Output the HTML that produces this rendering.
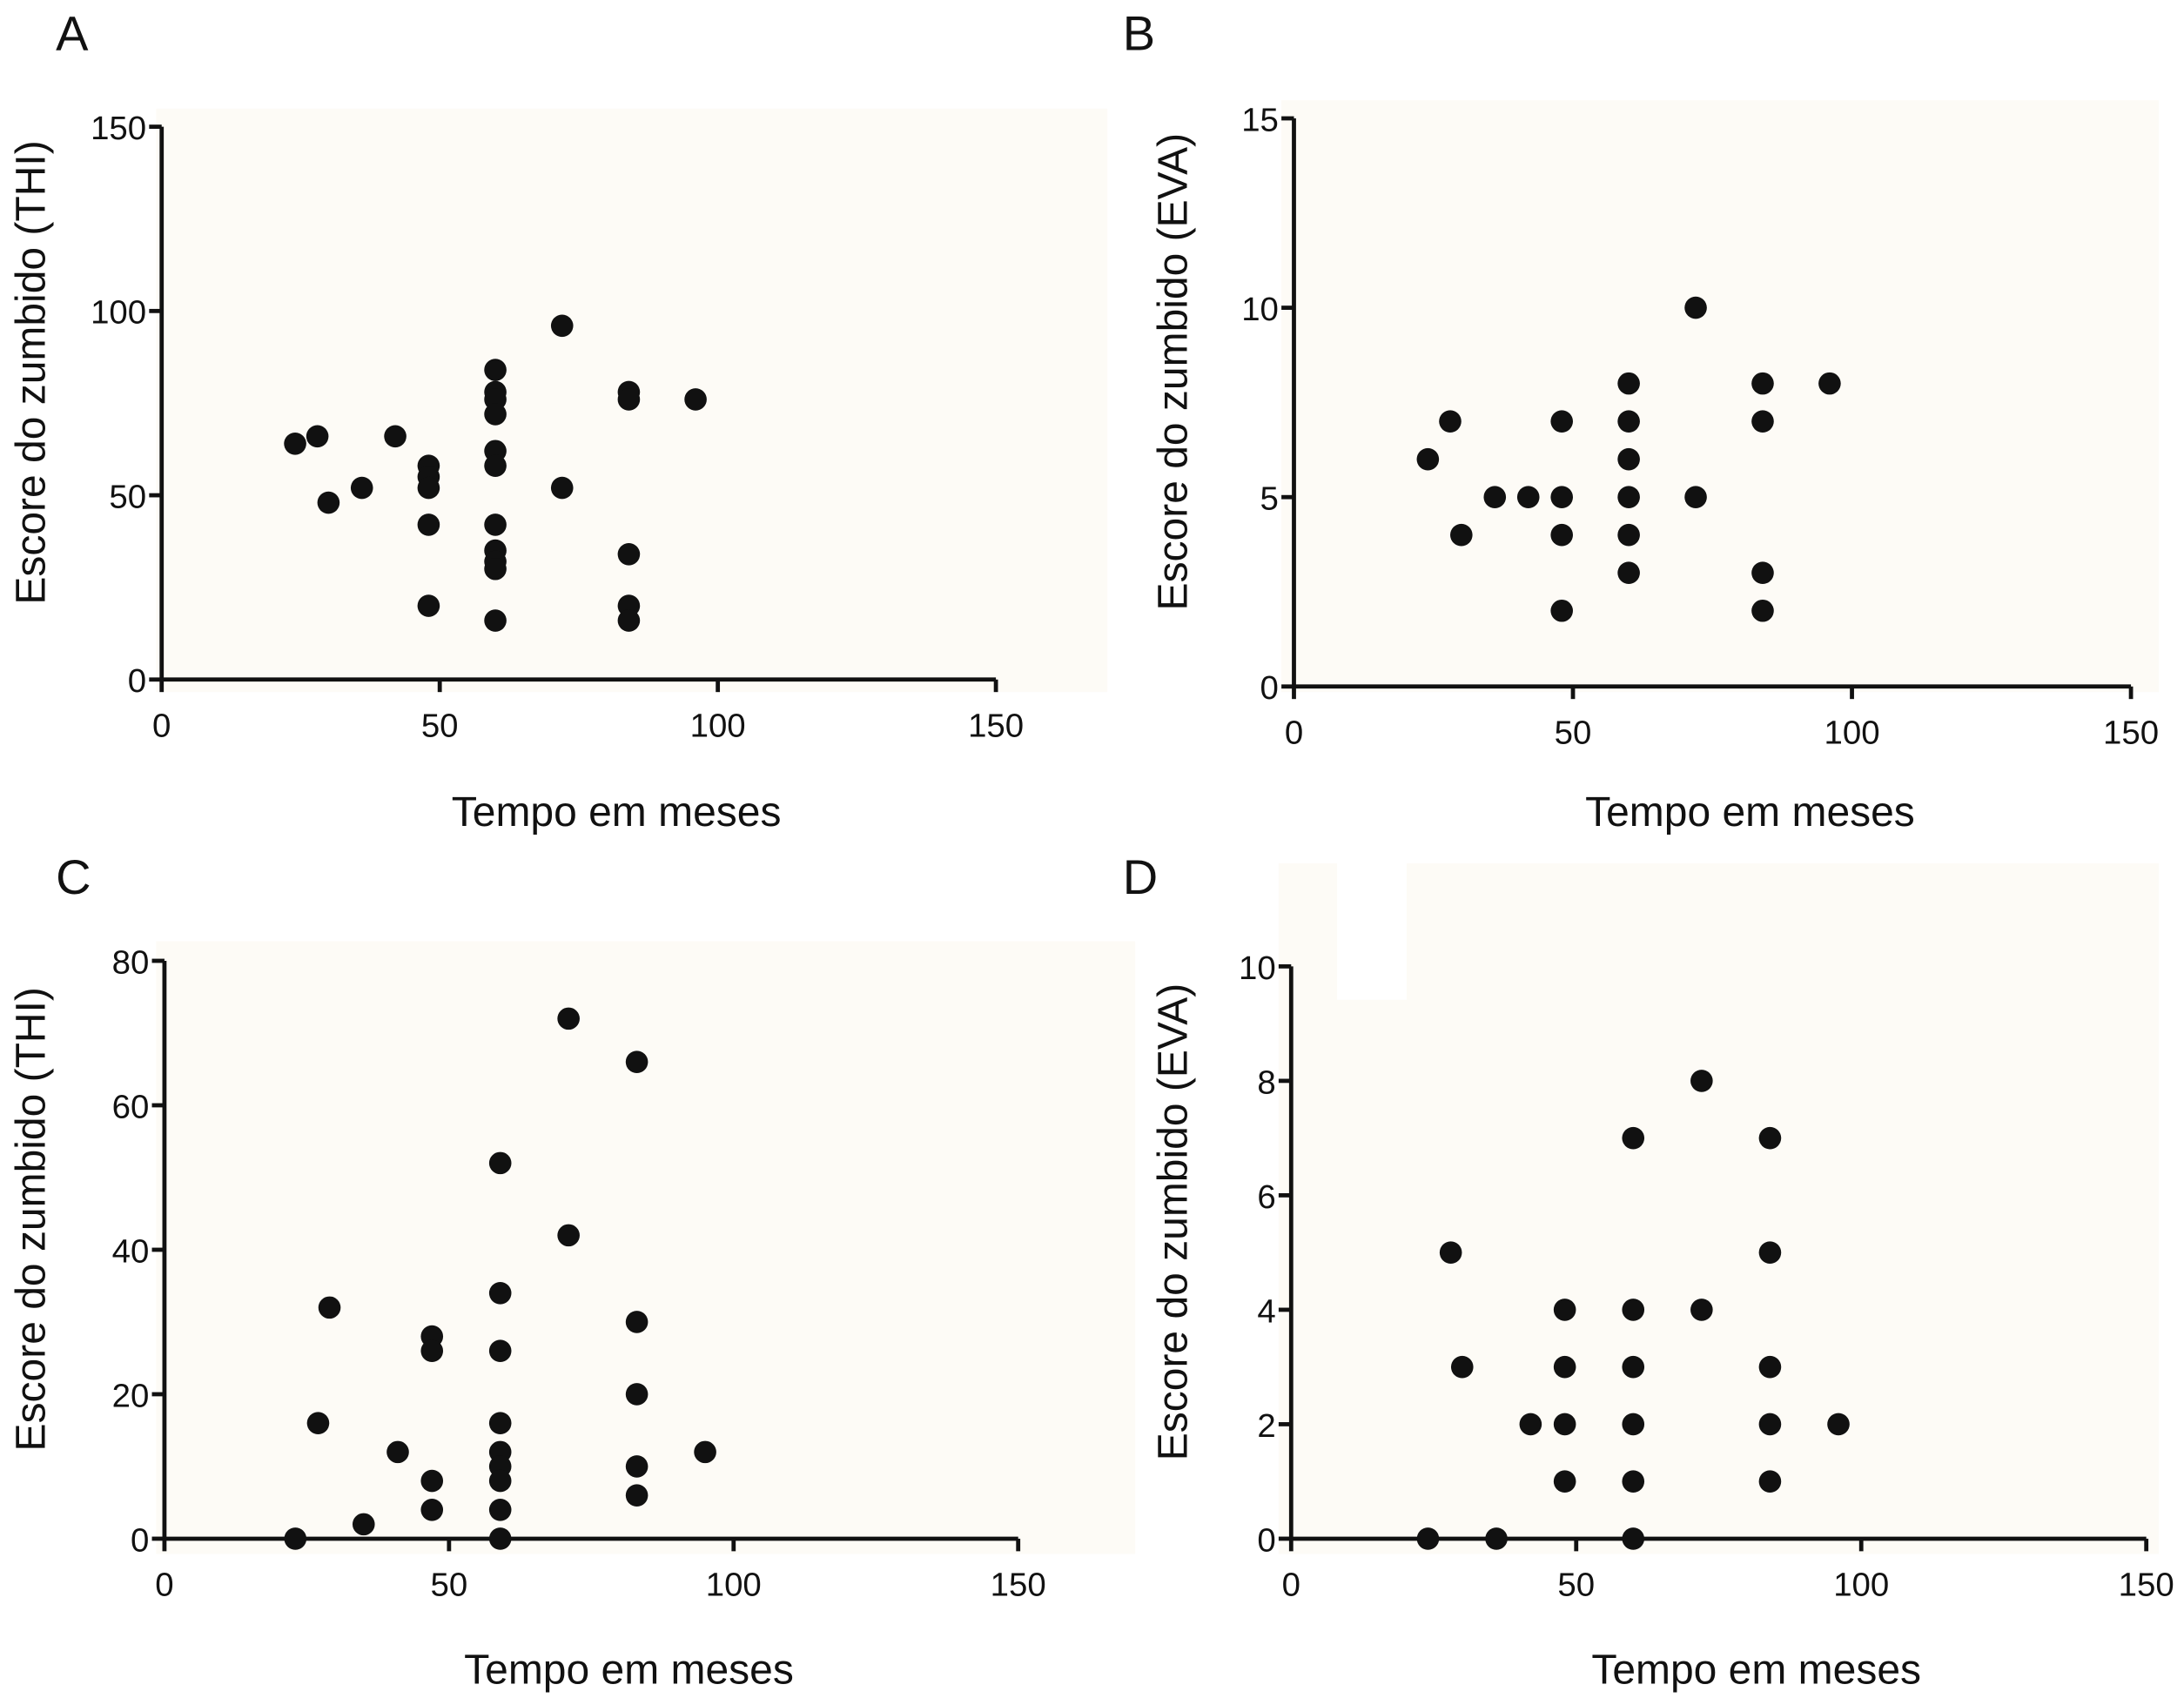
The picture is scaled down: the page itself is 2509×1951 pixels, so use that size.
<!DOCTYPE html>
<html><head><meta charset="utf-8"><style>
html,body{margin:0;padding:0;background:#fff;}
svg{display:block;font-family:"Liberation Sans",Arial,sans-serif;}
</style></head><body>
<svg id="fig" width="2509" height="1951" viewBox="0 0 1568 1219.4" xmlns="http://www.w3.org/2000/svg"></svg>
<script>
// Panel A data
const aX=[24,28,30,36,42,48,48,48,48,48,60,60,60,60,60,60,60,60,60,60,60,72,72,84,84,84,84,84,96];
const aY=[64,66,48,52,66,58,55,52,42,20,84,78,76,72,62,58,42,35,32,30,16,96,52,78,76,34,20,16,76];
// Panel B data
const bX=[24,28,30,36,42,48,48,48,48,60,60,60,60,60,60,72,72,84,84,84,84,96];
const bY=[6,7,4,5,5,7,5,4,2,8,7,6,5,4,3,10,5,8,7,3,2,8];
// Panel C data
const cX=[23,27,29,35,41,47,47,47,47,59,59,59,59,59,59,59,59,59,71,71,83,83,83,83,83,95];
const cY=[0,16,32,2,12,28,26,8,4,52,34,26,16,12,10,8,4,0,72,42,66,30,20,10,6,12];
// Panel D data
const dX=[24,28,30,36,42,48,48,48,48,60,60,60,60,60,60,72,72,84,84,84,84,84,96];
const dY=[0,5,3,0,2,4,3,2,1,7,4,3,2,1,0,8,4,7,5,3,2,1,2];
const xTicks=[0,50,100,150];
const aTicks=[0,50,100,150], bTicks=[0,5,10,15], cTicks=[0,20,40,60,80], dTicks=[0,2,4,6,8,10];

const NS="http://www.w3.org/2000/svg";
const svg=document.getElementById('fig');
function el(tag,attrs,parent){const e=document.createElementNS(NS,tag);for(const k in attrs)e.setAttribute(k,attrs[k]);(parent||svg).appendChild(e);return e;}

const panels=[
 {id:'a',letter:'A',lx:40,ly:36,xs:aX,ys:aY,yt:aTicks,x0:116,x1:715,y0:488,y1:91,ymax:150,ylab:'Escore do zumbido (THI)',tx:22,bg:[112,78,683,419],xty:585},
 {id:'b',letter:'B',lx:806,ly:36,xs:bX,ys:bY,yt:bTicks,x0:929,x1:1530,y0:493,y1:85,ymax:15,ylab:'Escore do zumbido (EVA)',tx:842,bg:[920,72,630,425],xty:585},
 {id:'c',letter:'C',lx:40,ly:642,xs:cX,ys:cY,yt:cTicks,x0:118,x1:731,y0:1105,y1:690,ymax:80,ylab:'Escore do zumbido (THI)',tx:22,bg:[112,676,703,440],xty:1201},
 {id:'d',letter:'D',lx:806,ly:642,xs:dX,ys:dY,yt:dTicks,x0:927,x1:1541,y0:1105,y1:694,ymax:10,ylab:'Escore do zumbido (EVA)',tx:842,bg:[918,620,632,496],xty:1201}
];
panels.forEach(p=>{
 const g=el('g',{});
 
 
 const bg=el('rect',{x:p.bg[0],y:p.bg[1],width:p.bg[2],height:p.bg[3],fill:'#fdfbf6'},g);
 
 
 const sx=v=>p.x0+(v/150)*(p.x1-p.x0);
 const sy=v=>p.y0-(v/p.ymax)*(p.y0-p.y1);
 const L=el('text',{x:p.lx,y:p.ly,'font-size':35,fill:'#111'},g);L.textContent=p.letter;
 
 
 const ya=el('line',{x1:p.x0,x2:p.x0,y1:p.y1,y2:p.y0,stroke:'#111','stroke-width':3},g);
 
 
 const xa=el('line',{x1:p.x0,x2:p.x1,y1:p.y0,y2:p.y0,stroke:'#111','stroke-width':3},g);
 
 
 p.yt.forEach(t=>{
  el('line',{x1:p.x0-9,x2:p.x0,y1:sy(t),y2:sy(t),stroke:'#111','stroke-width':3},g);
  const tt=el('text',{x:p.x0-11,y:sy(t)+9,'font-size':24,'text-anchor':'end',fill:'#111'},g);tt.textContent=t;
  
  
 });
 xTicks.forEach(t=>{
  el('line',{x1:sx(t),x2:sx(t),y1:p.y0,y2:p.y0+9,stroke:'#111','stroke-width':3},g);
  const tt=el('text',{x:sx(t),y:p.y0+41,'font-size':24,'text-anchor':'middle',fill:'#111'},g);tt.textContent=t;
  
  
 });
 const xt=el('text',{x:(p.x0+p.x1)/2+27,y:p.xty+8,'font-size':30,'text-anchor':'middle',fill:'#111'},g);xt.textContent='Tempo em meses';
 
 
 const cy=(p.y0+p.y1)/2-22;
 const yt=el('text',{x:p.tx,y:cy,'font-size':30,'text-anchor':'middle',fill:'#111',transform:`rotate(-90 ${p.tx} ${cy}) translate(0 10)`},g);yt.textContent=p.ylab;
 
 
 p.xs.forEach((x,i)=>{
  const c=el('circle',{cx:sx(x),cy:sy(p.ys[i]),r:8,fill:'#111'},g);
  
  
 });
});
const w=el('rect',{x:960,y:618,width:50,height:100,fill:'#fff'});


</script>
</body></html>
